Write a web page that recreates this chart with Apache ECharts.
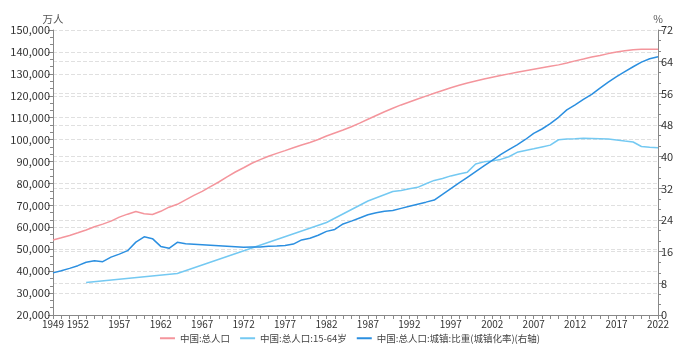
<!DOCTYPE html>
<html>
<head>
<meta charset="utf-8">
<script src="https://cdn.jsdelivr.net/npm/echarts@6/dist/echarts.min.js"></script>
<style>
html,body{margin:0;padding:0;background:#fff;}
#main{width:700px;height:353px;}
</style>
</head>
<body>
<div id="main"></div>
<script>
var years = ['1949','1950','1951','1952','1953','1954','1955','1956','1957','1958',
	'1959','1960','1961','1962','1963','1964','1965','1966','1967','1968',
	'1969','1970','1971','1972','1973','1974','1975','1976','1977','1978',
	'1979','1980','1981','1982','1983','1984','1985','1986','1987','1988',
	'1989','1990','1991','1992','1993','1994','1995','1996','1997','1998',
	'1999','2000','2001','2002','2003','2004','2005','2006','2007','2008',
	'2009','2010','2011','2012','2013','2014','2015','2016','2017','2018',
	'2019','2020','2021','2022'];

// 中国:总人口 (万人)
var totalPop = [54167,55196,56300,57482,58796,60266,61465,62828,64653,65994,
	67207,66207,65859,67296,69172,70499,72538,74542,76368,78534,
	80671,82992,85229,87177,89211,90859,92420,93717,94974,96259,
	97542,98705,100072,101654,103008,104357,105851,107507,109300,111026,
	112704,114333,115823,117171,118517,119850,121121,122389,123626,124761,
	125786,126743,127627,128453,129227,129988,130756,131448,132129,132802,
	133450,134091,134916,135922,136726,137646,138326,139232,140011,140541,
	141008,141212,141260,141175];

// 中国:总人口:15-64岁 (万人), 缺失年份为 null
var pop1564 = [null,null,null,null,34800,null,null,null,null,null,
	null,null,null,null,null,38900,null,null,null,null,
	null,null,null,null,null,null,null,null,null,null,
	null,null,null,62200,null,null,null,null,71985,null,
	null,76306,76791,77614,78241,79868,81393,82245,83448,84338,
	85157,88910,89849,90302,90976,92184,94197,95068,95833,96680,
	97484,99938,100283,100403,100582,100469,100361,100260,99829,99357,
	98910,96871,96526,96289];

// 中国:总人口:城镇:比重 (%)
var urbanRate = [10.64,11.18,11.78,12.46,13.31,13.69,13.48,14.62,15.39,16.25,
	18.41,19.75,19.29,17.33,16.84,18.37,17.98,17.86,17.74,17.62,
	17.50,17.38,17.26,17.13,17.20,17.16,17.34,17.44,17.55,17.92,
	18.96,19.39,20.16,21.13,21.62,23.01,23.71,24.52,25.32,25.81,
	26.21,26.41,26.94,27.46,27.99,28.51,29.04,30.48,31.91,33.35,
	34.78,36.22,37.66,39.09,40.53,41.76,42.99,44.34,45.89,46.99,
	48.34,49.95,51.83,53.10,54.49,55.75,57.33,58.84,60.24,61.50,
	62.71,63.89,64.72,65.22];

var seriesNames = ['中国:总人口','中国:总人口:15-64岁','中国:总人口:城镇:比重(城镇化率)(右轴)'];

var font = 'Noto Sans CJK SC, Noto Sans, sans-serif';
var axisGray = '#888';
var splitStyle = { show: true, lineStyle: { type: 'dashed', color: '#e0e0e0', width: 1 } };

var chart = echarts.init(document.getElementById('main'));
var option = {
	animation: false,
	textStyle: { fontFamily: font },
	color: ['#f4959c', '#74c9f2', '#2b8fe0'],
	grid: { left: 53, right: 42, top: 30, bottom: 38 },
	legend: {
		bottom: 5,
		left: 'center',
		icon: 'rect',
		itemWidth: 15,
		itemHeight: 2,
		itemGap: 10,
		textStyle: { fontSize: 9.5, color: '#444', fontFamily: font },
		data: seriesNames
	},
	xAxis: {
		type: 'category',
		boundaryGap: false,
		data: years,
		axisLine: { lineStyle: { color: axisGray } },
		axisTick: { interval: 0, length: 4, lineStyle: { color: axisGray } },
		axisLabel: {
			color: '#333', fontSize: 10, margin: 4,
			interval: function (idx, val) {
				return idx === 0 || (Number(val) - 1952) % 5 === 0;
			}
		},
		splitLine: { show: false }
	},
	yAxis: [
		{
			type: 'value',
			name: '万人',
			nameGap: 6,
			nameTextStyle: { color: '#555', fontSize: 10.5, align: 'center' },
			min: 20000, max: 150000, interval: 10000,
			axisLine: { show: true, lineStyle: { color: axisGray } },
			axisTick: { show: true, length: 5, lineStyle: { color: axisGray } },
			minorTick: { show: true, splitNumber: 3, length: 3, lineStyle: { color: axisGray } },
			axisLabel: {
				color: '#333', fontSize: 11, margin: 3,
				formatter: function (v) { return v.toString().replace(/\B(?=(\d{3})+(?!\d))/g, ','); }
			},
			splitLine: splitStyle
		},
		{
			type: 'value',
			name: '%',
			nameGap: 6,
			nameTextStyle: { color: '#555', fontSize: 10.5, align: 'center' },
			min: 0, max: 72, interval: 8,
			position: 'right',
			axisLine: { show: true, lineStyle: { color: axisGray } },
			axisTick: { show: true, length: 5, lineStyle: { color: axisGray } },
			minorTick: { show: true, splitNumber: 3, length: 3, lineStyle: { color: axisGray } },
			axisLabel: { color: '#333', fontSize: 11, margin: 3 },
			splitLine: splitStyle
		}
	],
	series: [
		{
			name: seriesNames[0],
			type: 'line',
			showSymbol: false,
			symbol: 'none',
			lineStyle: { width: 1.5 },
			data: totalPop
		},
		{
			name: seriesNames[1],
			type: 'line',
			showSymbol: false,
			symbol: 'none',
			connectNulls: true,
			lineStyle: { width: 1.5 },
			data: pop1564
		},
		{
			name: seriesNames[2],
			type: 'line',
			yAxisIndex: 1,
			showSymbol: false,
			symbol: 'none',
			lineStyle: { width: 1.5 },
			data: urbanRate
		}
	]
};
chart.setOption(option);
</script>
</body>
</html>
